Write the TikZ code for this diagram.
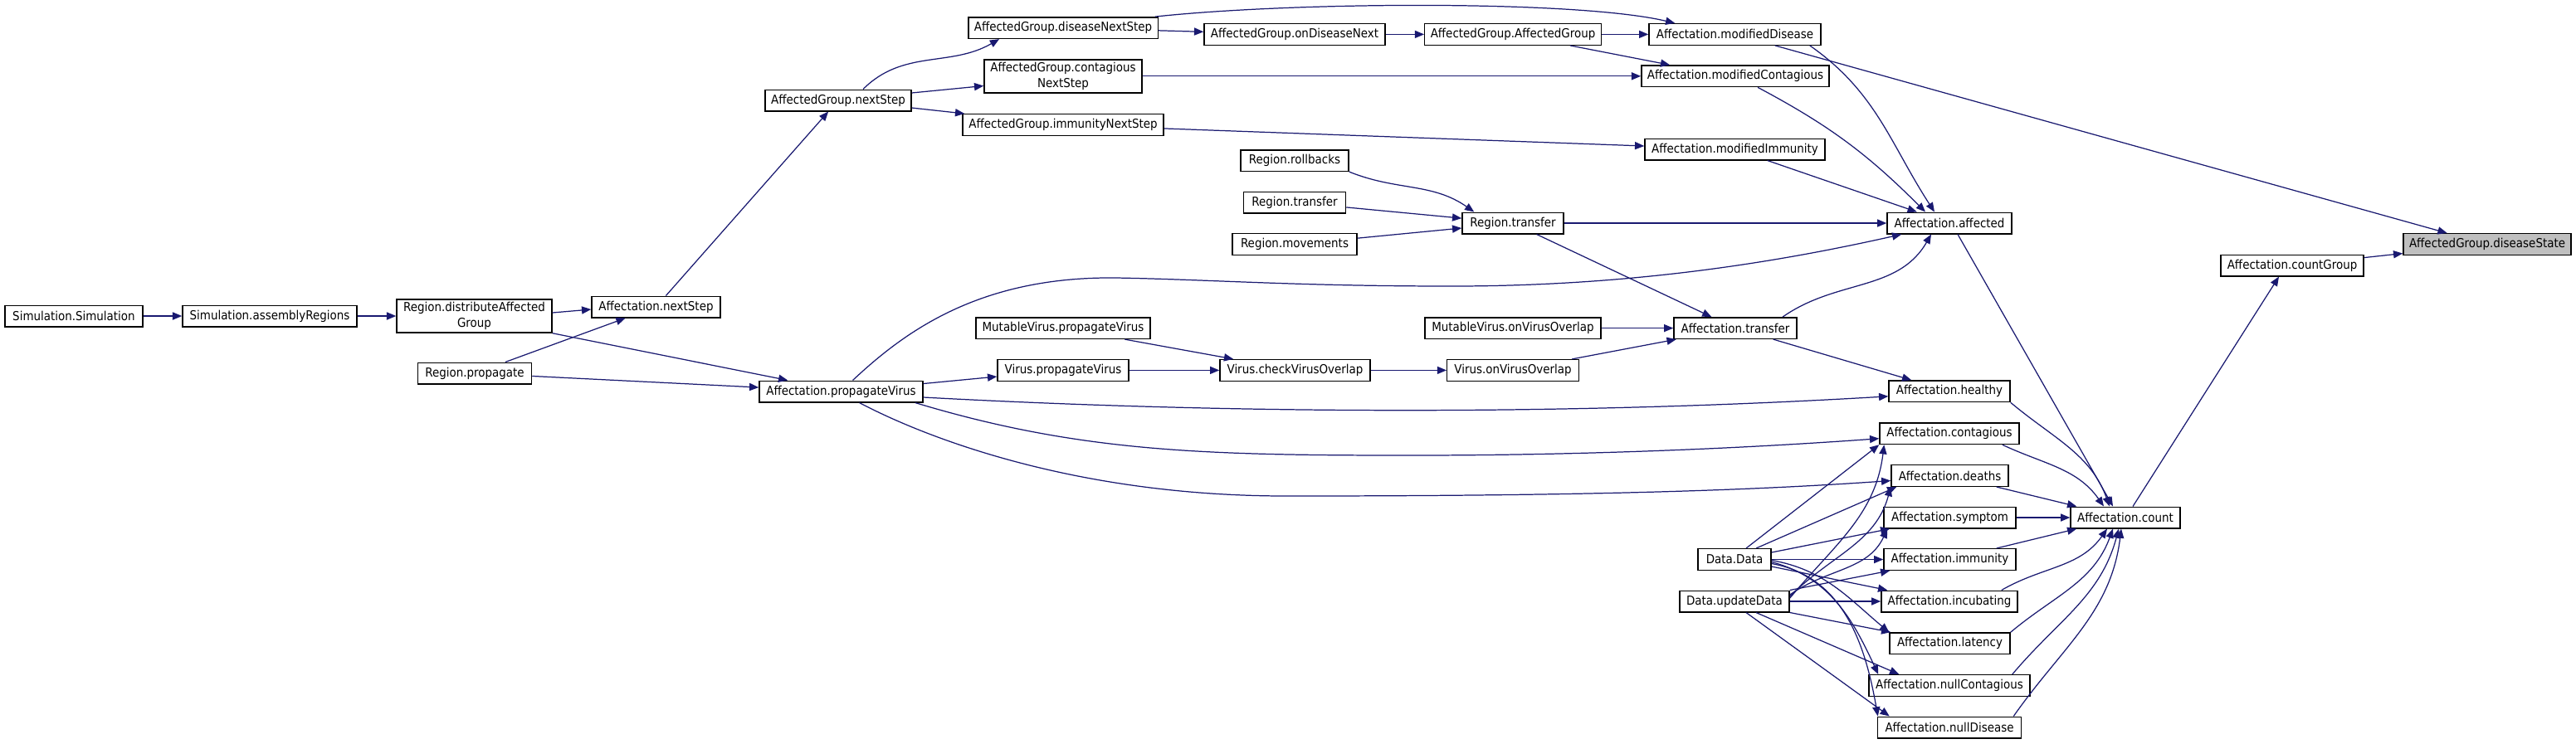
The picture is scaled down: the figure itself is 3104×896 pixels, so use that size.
\documentclass[tikz,border=0pt]{standalone}
\usepackage{fontspec}
\setmainfont{DejaVu Sans Condensed}
\usetikzlibrary{arrows.meta}

\definecolor{edgeblue}{HTML}{191970}
\definecolor{hlgray}{HTML}{BFBFBF}

\tikzset{
  fn/.style={draw=black, fill=white, line width=0.4pt, inner xsep=2pt, inner ysep=0pt,
    minimum height=0.256cm, align=center, font=\fontsize{4.25}{5.2}\selectfont},
  call/.style={draw=edgeblue, line width=0.35pt, -{Triangle[length=3.2pt,width=2.6pt]}}
}

\begin{document}
\begin{tikzpicture}[x=0.01cm, y=0.01cm]
\useasboundingbox (0,0) rectangle (3104,-896);

% left part
\node[fn, minimum width=1.66cm] (simsim) at (89,-381) {Simulation.Simulation};
\node[fn, minimum width=2.10cm] (asmreg) at (325,-381) {Simulation.assemblyRegions};
\node[fn, minimum width=1.87cm, minimum height=0.40cm] (distag) at (571.5,-381) {Region.distributeAffected\\Group};
\node[fn, minimum width=1.37cm] (regprop) at (572,-450) {Region.propagate};
\node[fn, minimum width=1.55cm] (affnext) at (790.5,-370) {Affectation.nextStep};
\node[fn, minimum width=1.70cm] (agnext) at (1010,-121) {AffectedGroup.nextStep};
\node[fn, minimum width=1.97cm] (affpv) at (1013.5,-472) {Affectation.propagateVirus};

% affected group chain
\node[fn, minimum width=2.28cm] (agdisnext) at (1281,-33.6) {AffectedGroup.diseaseNextStep};
\node[fn, minimum width=1.90cm, minimum height=0.40cm] (agcontnext) at (1281,-91.8) {AffectedGroup.contagious\\NextStep};
\node[fn, minimum width=2.42cm] (agimmnext) at (1281,-150.5) {AffectedGroup.immunityNextStep};
\node[fn, minimum width=2.18cm] (agondis) at (1560,-41.4) {AffectedGroup.onDiseaseNext};
\node[fn, minimum width=2.12cm] (agctor) at (1823,-41.4) {AffectedGroup.AffectedGroup};
\node[fn, minimum width=2.07cm] (affmoddis) at (2090.5,-41.4) {Affectation.modifiedDisease};
\node[fn, minimum width=2.26cm] (affmodcont) at (2091,-91.8) {Affectation.modifiedContagious};
\node[fn, minimum width=2.17cm] (affmodimm) at (2090.5,-180) {Affectation.modifiedImmunity};

% region transfer
\node[fn, minimum width=1.30cm] (regroll) at (1560,-193.6) {Region.rollbacks};
\node[fn, minimum width=1.23cm] (regtrans) at (1560,-244) {Region.transfer};
\node[fn, minimum width=1.50cm] (regmove) at (1560,-294.5) {Region.movements};
\node[fn, minimum width=1.22cm] (regtransfer) at (1823,-269) {Region.transfer};
\node[fn, minimum width=1.50cm] (affaffected) at (2349,-269) {Affectation.affected};
\node[fn, minimum width=2.02cm, fill=hlgray] (agdisstate) at (2997,-294.5) {AffectedGroup.diseaseState};
\node[fn, minimum width=1.72cm] (affcountgrp) at (2762,-320) {Affectation.countGroup};

% virus
\node[fn, minimum width=2.10cm] (mvpv) at (1281,-395.6) {MutableVirus.propagateVirus};
\node[fn, minimum width=2.12cm] (mvoverlap) at (1823,-395.6) {MutableVirus.onVirusOverlap};
\node[fn, minimum width=1.48cm] (afftrans) at (2091,-395.6) {Affectation.transfer};
\node[fn, minimum width=1.58cm] (vpv) at (1281,-446.4) {Virus.propagateVirus};
\node[fn, minimum width=1.81cm] (vcheck) at (1560.5,-446.4) {Virus.checkVirusOverlap};
\node[fn, minimum width=1.585cm] (voverlap) at (1823,-446.4) {Virus.onVirusOverlap};

% counters
\node[fn, minimum width=1.46cm] (affhealthy) at (2349,-471.8) {Affectation.healthy};
\node[fn, minimum width=1.68cm] (affcont) at (2349,-522.7) {Affectation.contagious};
\node[fn, minimum width=1.41cm] (affdeaths) at (2349.5,-573.5) {Affectation.deaths};
\node[fn, minimum width=1.59cm] (affsymp) at (2349.5,-624) {Affectation.symptom};
\node[fn, minimum width=1.32cm] (affcount) at (2561,-624) {Affectation.count};
\node[fn, minimum width=1.59cm] (affimm) at (2349.5,-674.5) {Affectation.immunity};
\node[fn, minimum width=0.88cm] (datadata) at (2090,-674.5) {Data.Data};
\node[fn, minimum width=1.64cm] (affincub) at (2349,-725) {Affectation.incubating};
\node[fn, minimum width=1.32cm] (dataupd) at (2090,-725) {Data.updateData};
\node[fn, minimum width=1.45cm] (afflat) at (2349.5,-775.7) {Affectation.latency};
\node[fn, minimum width=1.94cm] (affnullcont) at (2349,-826.5) {Affectation.nullContagious};
\node[fn, minimum width=1.73cm] (affnulldis) at (2349,-877) {Affectation.nullDisease};

% calls
\draw[call] (simsim) -- (asmreg);
\draw[call] (asmreg) -- (distag);
\draw[call] ([yshift=0.04cm]distag.east) -- ([yshift=-0.03cm]affnext.west);
\draw[call] (distag.south east) -- ([xshift=0.35cm]affpv.north west);
\draw[call] (regprop) -- (affnext);
\draw[call] (regprop) -- (affpv);
\draw[call] (affnext) -- (agnext);
\draw[call] ([xshift=0.3cm]agnext.north) to[out=45,in=-150] ([xshift=0.38cm]agdisnext.south west);
\draw[call] ([yshift=0.09cm]agnext.east) -- ([yshift=-0.117cm]agcontnext.west);
\draw[call] ([yshift=-0.09cm]agnext.east) -- ([xshift=0.03cm]agimmnext.north west);
\draw[call] (agdisnext) -- (agondis);
\draw[call] ([xshift=-0.04cm]agdisnext.north east) .. controls (1560,-2) and (1900,0) .. ([xshift=0.32cm]affmoddis.north west);
\draw[call] (agondis) -- (agctor);
\draw[call] (agctor) -- (affmoddis);
\draw[call] ([xshift=-0.38cm]agctor.south east) -- ([xshift=0.35cm]affmodcont.north west);
\draw[call] (agcontnext) -- (affmodcont);
\draw[call] (agimmnext) -- (affmodimm);
\draw[call] (affmoddis) -- (agdisstate);
\draw[call] ([xshift=-0.14cm]affmoddis.south east) to[out=-35,in=123] ([xshift=-0.18cm]affaffected.north);
\draw[call] ([xshift=0.27cm]affmodcont.south) to[out=-28,in=135] ([xshift=-0.29cm]affaffected.north);
\draw[call] (affmodimm) -- (affaffected);
\draw[call] (regroll.south east) to[out=-22,in=145] ([xshift=0.15cm]regtransfer.north west);
\draw[call] (regtrans) -- (regtransfer);
\draw[call] (regmove) -- (regtransfer);
\draw[call] (regtransfer) -- (affaffected);
\draw[call] (regtransfer) -- (afftrans);
\draw[call] ([xshift=0.14cm]affpv.north) .. controls (1090,-400) and (1180,-333) .. (1345,-335)
  .. controls (1460,-337) and (1560,-345) .. (1750,-345)
  .. controls (1980,-345) and (2160,-312) .. ([xshift=0.18cm]affaffected.south west);
\draw[call] (affpv) -- (vpv);
\draw[call] ([yshift=-0.07cm]affpv.east) .. controls (1500,-500) and (1900,-500) .. ([yshift=-0.06cm]affhealthy.west);
\draw[call] ([xshift=-0.1cm]affpv.south east) .. controls (1300,-545) and (1450,-549) .. (1700,-549)
  .. controls (1950,-549) and (2150,-537) .. ([yshift=-0.06cm]affcont.west);
\draw[call] ([xshift=0.22cm]affpv.south) .. controls (1120,-530) and (1300,-598) .. (1550,-598)
  .. controls (1900,-598) and (2100,-592) .. ([yshift=-0.06cm]affdeaths.west);
\draw[call] (mvpv) -- (vcheck);
\draw[call] (vpv) -- (vcheck);
\draw[call] (vcheck) -- (voverlap);
\draw[call] (voverlap) -- (afftrans);
\draw[call] (mvoverlap) -- (afftrans);
\draw[call] ([xshift=0.57cm]afftrans.north) to[out=35,in=-120] ([xshift=-0.22cm]affaffected.south);
\draw[call] (afftrans) -- (affhealthy);

% into count
\draw[call] ([xshift=0.1cm]affaffected.south) -- ([xshift=-0.15cm]affcount.north);
\draw[call] (affhealthy.south east) to[out=-40,in=110] ([xshift=-0.19cm]affcount.north);
\draw[call] ([xshift=-0.21cm]affcont.south east) to[out=-25,in=125] ([xshift=-0.26cm]affcount.north);
\draw[call] ([xshift=-0.15cm]affdeaths.south east) -- ([xshift=0.08cm]affcount.north west);
\draw[call] (affsymp) -- (affcount);
\draw[call] ([xshift=-0.24cm]affimm.north east) -- ([xshift=0.08cm]affcount.south west);
\draw[call] ([xshift=-0.2cm]affincub.north east) to[out=30,in=-125] ([xshift=-0.22cm]affcount.south);
\draw[call] (afflat.north east) to[out=40,in=-110] ([xshift=-0.15cm]affcount.south);
\draw[call] ([xshift=-0.22cm]affnullcont.north east) to[out=50,in=-105] ([xshift=-0.08cm]affcount.south);
\draw[call] ([xshift=-0.1cm]affnulldis.north east) to[out=55,in=-97] ([xshift=-0.05cm]affcount.south);
\draw[call] ([xshift=0.09cm]affcount.north) -- ([xshift=-0.16cm]affcountgrp.south);
\draw[call] (affcountgrp) -- (agdisstate);

% data
\draw[call] ([xshift=0.14cm]datadata.north) -- (affcont.south west);
\draw[call] ([xshift=0.26cm]datadata.north) -- ([xshift=0.07cm]affdeaths.south west);
\draw[call] ([yshift=0.085cm]datadata.east) -- ([xshift=0.08cm]affsymp.south west);
\draw[call] (datadata) -- (affimm);
\draw[call] ([yshift=-0.085cm]datadata.east) -- ([xshift=0.08cm]affincub.north west);
\draw[call] ([yshift=-0.01cm]datadata.east) to[out=-10,in=140] (afflat.north west);
\draw[call] ([yshift=-0.03cm]datadata.east) to[out=-15,in=115] ([xshift=0.12cm]affnullcont.north west);
\draw[call] ([yshift=-0.05cm]datadata.east) to[out=-10,in=100] ([xshift=0.01cm]affnulldis.north west);
\draw[call] (dataupd.north east) -- ([xshift=0.08cm]affimm.south west);
\draw[call] ([yshift=0.08cm]dataupd.east) to[out=35,in=-115] ([xshift=0.05cm]affsymp.south west);
\draw[call] ([yshift=0.06cm]dataupd.east) to[out=45,in=-105] (affdeaths.south west);
\draw[call] ([yshift=0.04cm]dataupd.east) to[out=50,in=-97] ([xshift=0.06cm]affcont.south west);
\draw[call] (dataupd) -- (affincub);
\draw[call] (dataupd.south east) -- ([xshift=0.02cm]afflat.north west);
\draw[call] ([xshift=0.26cm]dataupd.south) -- ([xshift=0.37cm]affnullcont.north west);
\draw[call] ([xshift=0.14cm]dataupd.south) -- ([xshift=0.15cm]affnulldis.north west);
\end{tikzpicture}
\end{document}
